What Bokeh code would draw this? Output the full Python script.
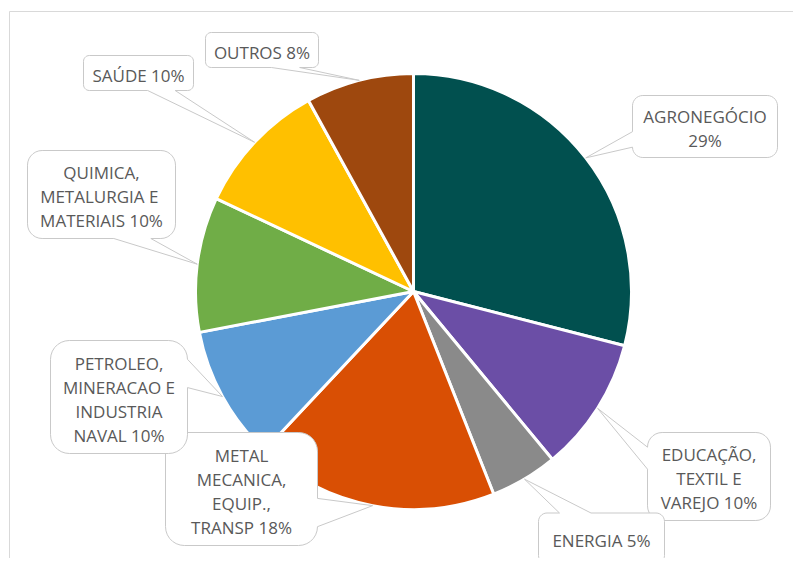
import math
import numpy as np
from bokeh.plotting import figure
from bokeh.models import Range1d, ColumnDataSource
from bokeh.core.properties import value
from bokeh.embed import file_html
from bokeh.resources import INLINE

# ---- data ----
categories = ["AGRONEGÓCIO", "EDUCAÇÃO, TEXTIL E VAREJO", "ENERGIA",
              "METAL MECANICA, EQUIP., TRANSP",
              "PETROLEO, MINERACAO E INDUSTRIA NAVAL",
              "QUIMICA, METALURGIA  E MATERIAIS", "SAÚDE", "OUTROS"]
values = [29, 10, 5, 18, 10, 10, 10, 8]
colors = ["#01504F", "#6B4EA6", "#8A8A8A", "#D94F04",
          "#5B9BD5", "#70AD47", "#FFC000", "#9E480E"]

# label wrapping (layout of the texts)
label_lines = [["AGRONEGÓCIO", "{v}%"],
               ["EDUCAÇÃO,", "TEXTIL E", "VAREJO {v}%"],
               ["ENERGIA {v}%"],
               ["METAL", "MECANICA,", "EQUIP.,", "TRANSP {v}%"],
               ["PETROLEO,", "MINERACAO E", "INDUSTRIA", "NAVAL {v}%"],
               ["QUIMICA,", "METALURGIA  E", "MATERIAIS {v}%"],
               ["SAÚDE {v}%"],
               ["OUTROS {v}%"]]

# ---- layout (screen pixels of the picture) ----
PCX, PCY, R = 413, 291, 218
box_cx = [704.5, 708.5, 601, 241, 118.5, 101, 138, 261.5]
box_cy = [126, 476, 538, 488.5, 396.5, 194, 72.5, 49.5]
box_w = [145, 123, 126, 152, 137, 148, 110, 113]
box_h = [62, 88, 51, 113, 113, 88, 35, 35]
LINE_H = 24

p = figure(width=793, height=558, x_range=Range1d(0, 793), y_range=Range1d(-558, 0),
           output_backend="svg", toolbar_location=None, min_border=0)
p.axis.visible = False
p.grid.visible = False
p.outline_line_color = None
p.background_fill_color = "white"
p.border_fill_color = "white"

# frame of the chart area
p.line(x=[9, 9, 805], y=[-570, -11, -11], line_color="#D9D9D9", line_width=1)

# ---- pie ----
total = float(sum(values))
fr = np.array(values) / total
c1 = np.cumsum(fr)
c0 = c1 - fr
start = np.pi / 2 - 2 * np.pi * c0
end = np.pi / 2 - 2 * np.pi * c1
src = ColumnDataSource(dict(start=start, end=end, color=colors, cat=categories, val=values))
p.wedge(x=PCX, y=-PCY, radius=R, start_angle="start", end_angle="end", direction="clock",
        fill_color="color", line_color="white", line_width=3, source=src)


def callout(cx, cy, w, h, tx, ty):
    l, r, t, b = cx - w / 2, cx + w / 2, cy - h / 2, cy + h / 2
    rad = min(w, h) / 6.0
    dx, dy = tx - cx, ty - cy
    dq = dx * h / w
    vertical = abs(dy) > abs(dq)
    if vertical:
        side = "bottom" if dy > 0 else "top"
    else:
        side = "right" if dx > 0 else "left"
    x1 = l + w * (7 if dx > 0 else 2) / 12.0
    x2 = l + w * (10 if dx > 0 else 5) / 12.0
    y1 = t + h * (7 if dy > 0 else 2) / 12.0
    y2 = t + h * (10 if dy > 0 else 5) / 12.0
    pts = []

    def arc(ox, oy, a0, a1):
        for a in np.linspace(a0, a1, 8):
            pts.append((ox + rad * math.cos(a), oy + rad * math.sin(a)))

    arc(l + rad, t + rad, math.pi, 1.5 * math.pi)
    if side == "top":
        pts += [(x1, t), (tx, ty), (x2, t)]
    arc(r - rad, t + rad, 1.5 * math.pi, 2 * math.pi)
    if side == "right":
        pts += [(r, y1), (tx, ty), (r, y2)]
    arc(r - rad, b - rad, 0, 0.5 * math.pi)
    if side == "bottom":
        pts += [(x2, b), (tx, ty), (x1, b)]
    arc(l + rad, b - rad, 0.5 * math.pi, math.pi)
    if side == "left":
        pts += [(l, y2), (tx, ty), (l, y1)]
    xs = [q[0] for q in pts]
    ys = [-q[1] for q in pts]
    return xs, ys


cxs, cys = [], []
tx_, ty_, tt_ = [], [], []
for i in range(len(values)):
    mid = (c0[i] + c1[i]) / 2
    th = np.pi / 2 - 2 * np.pi * mid
    tipx = PCX + R * math.cos(th)
    tipy = PCY - R * math.sin(th)
    xs, ys = callout(box_cx[i], box_cy[i], box_w[i], box_h[i], tipx, tipy)
    cxs.append(xs)
    cys.append(ys)
    lines = [s.format(v=values[i]) for s in label_lines[i]]
    n = len(lines)
    for k, s in enumerate(lines):
        tx_.append(box_cx[i])
        ty_.append(-(box_cy[i] + 2 + (k - (n - 1) / 2.0) * LINE_H))
        tt_.append(s)

p.patches(xs=cxs, ys=cys, fill_color="white", line_color="#C9C9C9", line_width=1)
p.text(x=tx_, y=ty_, text=tt_, text_align="center", text_baseline="middle",
       text_font=value("Open Sans"), text_font_size="17px", text_color="#595959")

open("out.html", "w").write(file_html(p, INLINE))
